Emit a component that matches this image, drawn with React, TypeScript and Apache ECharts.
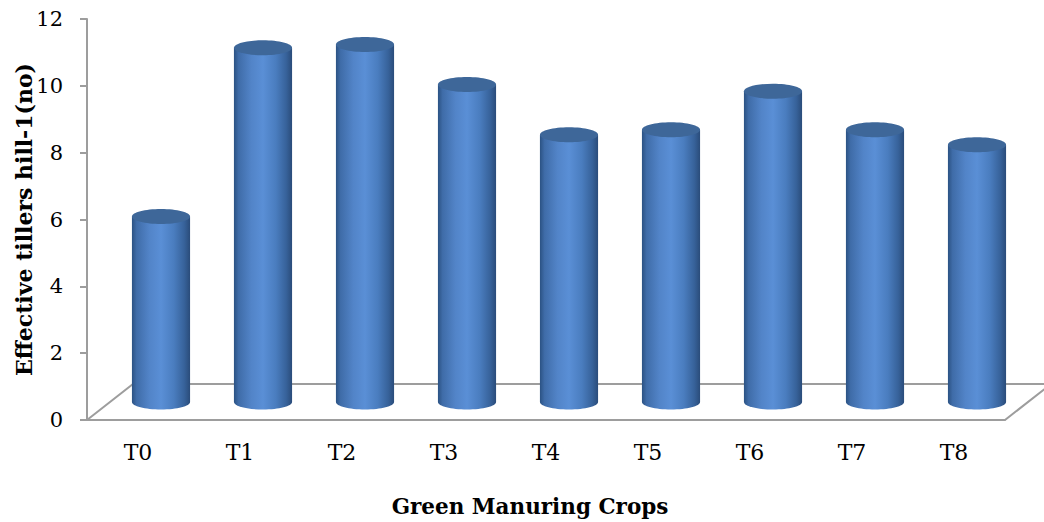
import React, { useEffect, useRef } from "react";
import * as echarts from "echarts";

// Effective tillers per hill for each green manuring treatment
const categories = ["T0", "T1", "T2", "T3", "T4", "T5", "T6", "T7", "T8"];
const tillers = [5.55, 10.6, 10.7, 9.5, 8.0, 8.15, 9.3, 8.15, 7.7];

const yMin = 0;
const yMax = 12;
const yStep = 2;

const xTitle = "Green Manuring Crops";
const yTitle = "Effective tillers hill-1(no)";

// Layout of the pseudo-3D plot
const WIDTH = 1044;
const HEIGHT = 522;
const PLOT_LEFT = 87;
const PLOT_RIGHT = 1005;
const PLOT_TOP = 19;
const PLOT_BOTTOM = 420;
const DEPTH_X = 46;
const DEPTH_Y = -36;
const AXIS_GRAY = "#9d9d9d";
const SERIF = "'DejaVu Serif', 'Liberation Serif', serif";

export default function App() {
  const ref = useRef<HTMLDivElement>(null);

  useEffect(() => {
    if (!ref.current) return;
    const chart = echarts.init(ref.current, null, { renderer: "svg" });

    const bodyGradient = () =>
      new echarts.graphic.LinearGradient(0, 0, 1, 0, [
        { offset: 0, color: "#2b5283" },
        { offset: 0.08, color: "#3f6ca8" },
        { offset: 0.3, color: "#5284c8" },
        { offset: 0.5, color: "#5a8fd6" },
        { offset: 0.72, color: "#4a7dbf" },
        { offset: 0.9, color: "#37629a" },
        { offset: 1, color: "#2a4c7a" },
      ]);

    chart.setOption({
      animation: false,
      backgroundColor: "#ffffff",
      grid: {
        left: PLOT_LEFT,
        right: WIDTH - PLOT_RIGHT,
        top: PLOT_TOP,
        bottom: HEIGHT - PLOT_BOTTOM,
        containLabel: false,
      },
      xAxis: {
        type: "category",
        data: categories,
        boundaryGap: true,
        axisLine: { show: true, lineStyle: { color: AXIS_GRAY, width: 2 } },
        axisTick: { show: false },
        axisLabel: {
          margin: 21,
          color: "#000",
          fontFamily: SERIF,
          fontSize: 22,
        },
        splitLine: { show: false },
      },
      yAxis: {
        type: "value",
        min: yMin,
        max: yMax,
        interval: yStep,
        axisLine: { show: true, lineStyle: { color: AXIS_GRAY, width: 2 } },
        axisTick: { show: true, length: 7, lineStyle: { color: AXIS_GRAY, width: 2 } },
        axisLabel: {
          margin: 24,
          color: "#000",
          fontFamily: SERIF,
          fontSize: 21,
        },
        splitLine: { show: false },
      },
      graphic: [
        // floor of the 3D box
        {
          type: "polyline",
          z: 0,
          shape: {
            points: [
              [PLOT_LEFT, PLOT_BOTTOM],
              [PLOT_LEFT + DEPTH_X, PLOT_BOTTOM + DEPTH_Y],
              [PLOT_RIGHT + DEPTH_X, PLOT_BOTTOM + DEPTH_Y],
              [PLOT_RIGHT, PLOT_BOTTOM],
            ],
          },
          style: { stroke: AXIS_GRAY, lineWidth: 2, fill: null },
        },
        {
          type: "text",
          x: 24,
          y: (PLOT_TOP + PLOT_BOTTOM) / 2,
          rotation: Math.PI / 2,
          style: {
            text: yTitle,
            fontFamily: SERIF,
            fontWeight: "bold",
            fontSize: 22,
            fill: "#000",
            align: "center",
            verticalAlign: "middle",
          },
        },
        {
          type: "text",
          x: 530,
          y: 506,
          style: {
            text: xTitle,
            fontFamily: SERIF,
            fontWeight: "bold",
            fontSize: 21.5,
            fill: "#000",
            align: "center",
            verticalAlign: "middle",
          },
        },
      ],
      series: [
        {
          type: "custom",
          z: 5,
          data: tillers.map((v, i) => [i, v]),
          renderItem: (params: any, api: any) => {
            const idx = api.value(0);
            const val = api.value(1);
            const base = api.coord([idx, yMin]);
            const top = api.coord([idx, val]);
            const band = api.size([1, 0])[0];
            const w = band * 0.57;
            const cx = base[0] + DEPTH_X / 2;
            const by = base[1] + DEPTH_Y / 2;
            const ty = top[1] + DEPTH_Y / 2;
            const ry = 7.5;
            return {
              type: "group",
              children: [
                {
                  type: "ellipse",
                  shape: { cx, cy: by, rx: w / 2, ry },
                  style: { fill: bodyGradient() },
                },
                {
                  type: "rect",
                  shape: { x: cx - w / 2, y: ty, width: w, height: by - ty },
                  style: { fill: bodyGradient() },
                },
                {
                  type: "ellipse",
                  shape: { cx, cy: ty, rx: w / 2, ry },
                  style: { fill: "#3e6799" },
                },
              ],
            };
          },
        },
      ],
    });

    return () => chart.dispose();
  }, []);

  return (
    <div
      ref={ref}
      style={{
        position: "fixed",
        left: 0,
        top: 0,
        width: WIDTH,
        height: HEIGHT,
        background: "#fff",
      }}
    />
  );
}
